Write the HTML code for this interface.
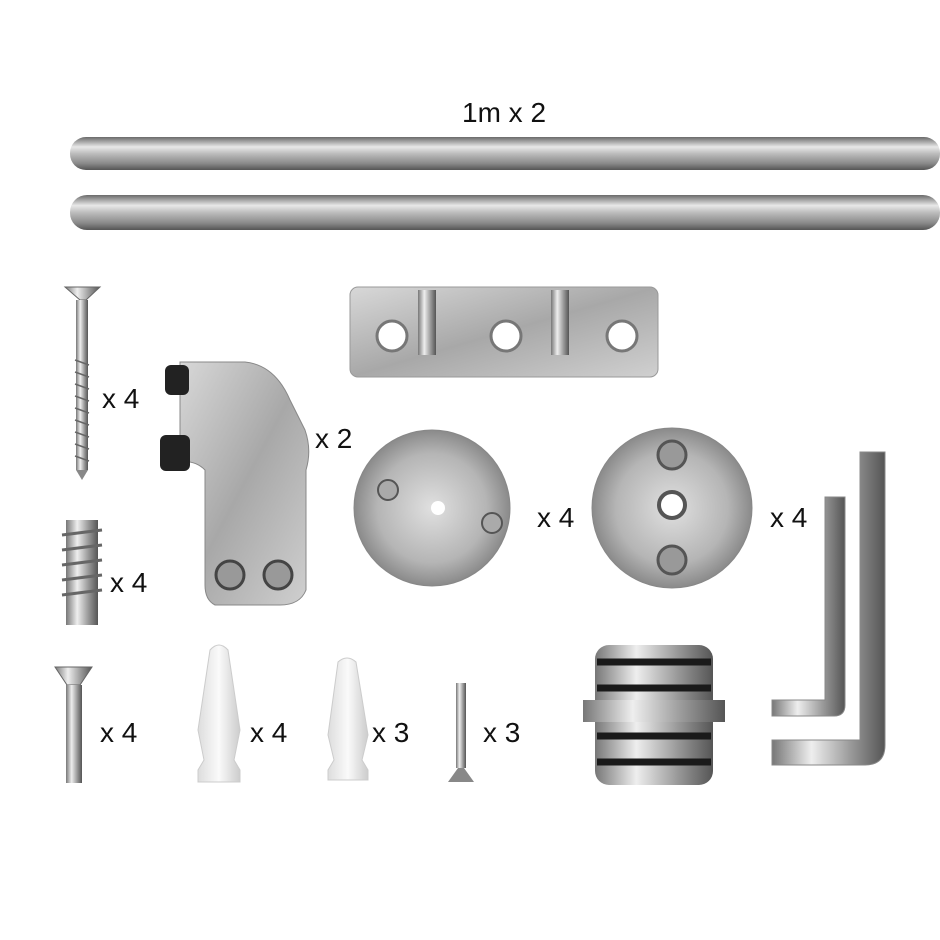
<!DOCTYPE html>
<html><head><meta charset="utf-8"><style>
html,body{margin:0;padding:0;background:#fff;}
svg{display:block}
text{font-family:"Liberation Sans",sans-serif;font-size:28px;fill:#111;}
</style></head><body>
<svg width="940" height="940" viewBox="0 0 940 940" xmlns="http://www.w3.org/2000/svg">
<defs>
<linearGradient id="rod" x1="0" y1="0" x2="0" y2="1">
<stop offset="0" stop-color="#6a6a6a"/><stop offset="0.3" stop-color="#e8e8e8"/><stop offset="0.5" stop-color="#bdbdbd"/><stop offset="0.8" stop-color="#8a8a8a"/><stop offset="1" stop-color="#555"/></linearGradient>
<linearGradient id="vrod" x1="0" y1="0" x2="1" y2="0">
<stop offset="0" stop-color="#777"/><stop offset="0.35" stop-color="#eee"/><stop offset="0.7" stop-color="#999"/><stop offset="1" stop-color="#555"/></linearGradient>
<linearGradient id="metal" x1="0" y1="0" x2="1" y2="1">
<stop offset="0" stop-color="#d8d8d8"/><stop offset="0.5" stop-color="#a8a8a8"/><stop offset="1" stop-color="#d0d0d0"/></linearGradient>
<radialGradient id="disc" cx="0.5" cy="0.5" r="0.5">
<stop offset="0" stop-color="#e0e0e0"/><stop offset="0.7" stop-color="#b5b5b5"/><stop offset="1" stop-color="#8a8a8a"/></radialGradient>
<linearGradient id="white" x1="0" y1="0" x2="1" y2="0">
<stop offset="0" stop-color="#ddd"/><stop offset="0.5" stop-color="#fafafa"/><stop offset="1" stop-color="#ccc"/></linearGradient>
</defs>

<text x="462" y="122">1m x 2</text>
<rect x="70" y="137" width="870" height="33" rx="16" fill="url(#rod)"/>
<rect x="70" y="195" width="870" height="35" rx="17" fill="url(#rod)"/>

<!-- long screw -->
<polygon points="65,287 100,287 86,300 80,300" fill="url(#vrod)" stroke="#666"/>
<rect x="76" y="300" width="12" height="170" fill="url(#vrod)"/>
<g stroke="#666" stroke-width="1.5">
<line x1="75" y1="360" x2="89" y2="365"/><line x1="75" y1="372" x2="89" y2="377"/><line x1="75" y1="384" x2="89" y2="389"/><line x1="75" y1="396" x2="89" y2="401"/><line x1="75" y1="408" x2="89" y2="413"/><line x1="75" y1="420" x2="89" y2="425"/><line x1="75" y1="432" x2="89" y2="437"/><line x1="75" y1="444" x2="89" y2="449"/><line x1="75" y1="456" x2="89" y2="461"/></g>
<polygon points="76,470 88,470 82,480" fill="#888"/>
<text x="102" y="408">x 4</text>

<!-- bracket -->
<path d="M180,362 L245,362 Q275,365 290,400 L305,430 Q312,450 306,470 L306,590 Q300,605 280,605 L215,605 Q205,600 205,585 L205,470 Q195,460 180,462 Z" fill="url(#metal)" stroke="#888"/>
<rect x="165" y="365" width="24" height="30" rx="6" fill="#222"/>
<rect x="160" y="435" width="30" height="36" rx="6" fill="#222"/>
<circle cx="230" cy="575" r="14" fill="#999" stroke="#444" stroke-width="3"/>
<circle cx="278" cy="575" r="14" fill="#999" stroke="#444" stroke-width="3"/>
<text x="315" y="448">x 2</text>

<!-- plate -->
<rect x="350" y="287" width="308" height="90" rx="8" fill="url(#metal)" stroke="#999"/>
<circle cx="392" cy="336" r="15" fill="#fff" stroke="#777" stroke-width="3"/>
<circle cx="506" cy="336" r="15" fill="#fff" stroke="#777" stroke-width="3"/>
<circle cx="622" cy="336" r="15" fill="#fff" stroke="#777" stroke-width="3"/>
<rect x="418" y="290" width="18" height="65" fill="url(#vrod)"/>
<rect x="551" y="290" width="18" height="65" fill="url(#vrod)"/>

<!-- discs -->
<circle cx="432" cy="508" r="78" fill="url(#disc)" stroke="#888"/>
<circle cx="438" cy="508" r="7" fill="#fff"/>
<circle cx="388" cy="490" r="10" fill="#aaa" stroke="#555" stroke-width="2"/>
<circle cx="492" cy="523" r="10" fill="#aaa" stroke="#555" stroke-width="2"/>
<text x="537" y="527">x 4</text>
<circle cx="672" cy="508" r="80" fill="url(#disc)" stroke="#888"/>
<circle cx="672" cy="455" r="14" fill="#999" stroke="#555" stroke-width="3"/>
<circle cx="672" cy="505" r="13" fill="#fff" stroke="#555" stroke-width="4"/>
<circle cx="672" cy="560" r="14" fill="#999" stroke="#555" stroke-width="3"/>
<text x="770" y="527">x 4</text>

<!-- allen keys -->
<path d="M860,452 L885,452 L885,745 Q885,765 865,765 L772,765 L772,740 L860,740 Z" fill="url(#vrod)" stroke="#888"/>
<path d="M825,497 L845,497 L845,705 Q845,716 834,716 L772,716 L772,700 L825,700 Z" fill="url(#vrod)" stroke="#888"/>

<!-- threaded insert -->
<rect x="66" y="520" width="32" height="105" fill="url(#vrod)"/>
<g stroke="#666" stroke-width="3"><line x1="62" y1="535" x2="102" y2="530"/><line x1="62" y1="550" x2="102" y2="545"/><line x1="62" y1="565" x2="102" y2="560"/><line x1="62" y1="580" x2="102" y2="575"/><line x1="62" y1="595" x2="102" y2="590"/></g>
<text x="110" y="592">x 4</text>

<!-- bolt -->
<polygon points="55,667 92,667 80,685 67,685" fill="url(#vrod)" stroke="#666"/>
<rect x="66" y="685" width="16" height="98" fill="url(#vrod)"/>
<text x="100" y="742">x 4</text>

<!-- anchors -->
<path d="M210,650 Q219,640 228,650 L240,730 L234,760 L240,770 L240,782 L198,782 L198,770 L204,760 L198,730 Z" fill="url(#white)" stroke="#ccc"/>
<text x="250" y="742">x 4</text>
<path d="M338,662 Q347,654 356,662 L368,735 L362,760 L368,770 L368,780 L328,780 L328,770 L334,760 L328,735 Z" fill="url(#white)" stroke="#ccc"/>
<text x="372" y="742">x 3</text>

<!-- small screw -->
<rect x="456" y="683" width="10" height="85" fill="url(#vrod)"/>
<polygon points="448,782 474,782 464,768 458,768" fill="#888"/>
<text x="483" y="742">x 3</text>

<!-- roller -->
<rect x="595" y="645" width="118" height="140" rx="14" fill="url(#vrod)"/>
<rect x="583" y="700" width="142" height="22" fill="url(#vrod)"/>
<g fill="none" stroke="#1a1a1a" stroke-width="7">
<line x1="597" y1="662" x2="711" y2="662"/><line x1="597" y1="688" x2="711" y2="688"/>
<line x1="597" y1="736" x2="711" y2="736"/><line x1="597" y1="762" x2="711" y2="762"/></g>
</svg>
</body></html>
